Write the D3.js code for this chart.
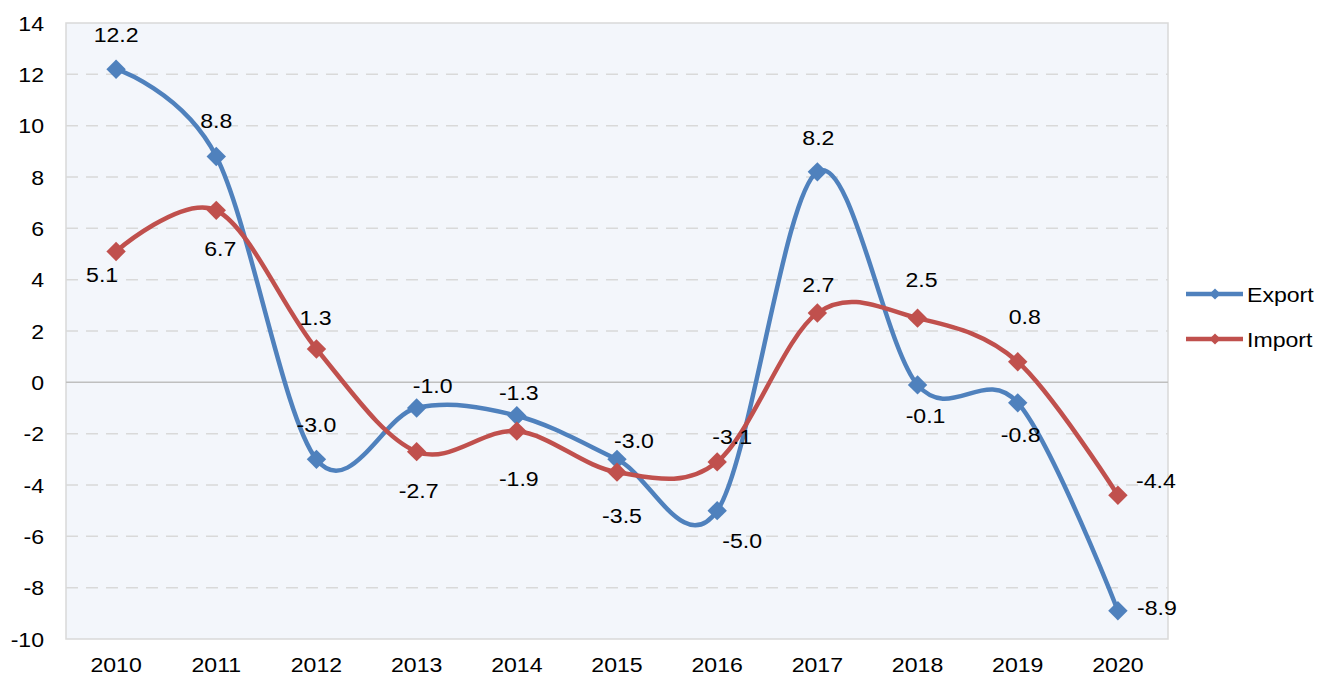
<!DOCTYPE html>
<html>
<head>
<meta charset="utf-8">
<script src="https://cdn.jsdelivr.net/npm/d3@7"></script>
<style>
  body { margin: 0; background: #fff; }
  svg { font-family: "Liberation Sans", Arial, sans-serif; }
</style>
</head>
<body>
<div id="chart"></div>
<script>
// chart data
const years = ['2010', '2011', '2012', '2013', '2014', '2015', '2016', '2017', '2018', '2019', '2020'];
const exportVals = [12.2, 8.8, -3.0, -1.0, -1.3, -3.0, -5.0, 8.2, -0.1, -0.8, -8.9];
const importVals = [5.1, 6.7, 1.3, -2.7, -1.9, -3.5, -3.1, 2.7, 2.5, 0.8, -4.4];
const yTicks = [-10, -8, -6, -4, -2, 0, 2, 4, 6, 8, 10, 12, 14];

// label nudges (dx, dy from the point), as Excel placed them by hand
const exportNudge = [[0, -27], [0, -28], [0, -27], [16, -15], [2, -16], [17, -11], [25, 37], [1, -27], [8, 38], [3, 39], [39, 4]];
const importNudge = [[-14, 31], [4, 46], [-1, -24], [2, 46], [2, 55], [5, 51], [15, -18], [1, -21], [4, -31], [7, -38], [38, -7]];

const W = 1319, H = 678;
const margin = { top: 23, right: 151, bottom: 39, left: 66 };
const width = W - margin.left - margin.right;
const height = H - margin.top - margin.bottom;
const fontSize = 21;

const svg = d3.select('#chart').append('svg')
  .attr('width', W).attr('height', H);

const g = svg.append('g')
  .attr('transform', `translate(${margin.left},${margin.top})`);

const x = d3.scaleBand().domain(years).range([0, width]);
const y = d3.scaleLinear().domain([-10, 14]).range([height, 0]);
const cx = (i) => x(years[i]) + x.bandwidth() / 2;

// text in the source is a bit wider than Arial, so stretch it slightly
function addText(parent, tx, ty, str, anchor) {
  parent.append('text')
    .attr('transform', `translate(${tx},${ty}) scale(1.1,1)`)
    .attr('text-anchor', anchor || 'middle')
    .attr('font-size', fontSize)
    .attr('fill', '#000')
    .text(str);
}

// plot background
g.append('rect')
  .attr('width', width).attr('height', height)
  .attr('fill', '#f3f6fb')
  .attr('stroke', '#d9d9d9').attr('stroke-width', 1.5);

// grid lines
g.append('g')
  .selectAll('line')
  .data(yTicks.filter((d) => d > -10 && d < 14))
  .join('line')
  .attr('x1', 0).attr('x2', width)
  .attr('y1', (d) => y(d)).attr('y2', (d) => y(d))
  .attr('stroke', (d) => (d === 0 ? '#bfbfbf' : '#d9d9d9'))
  .attr('stroke-width', 1.5)
  .attr('stroke-dasharray', (d) => (d === 0 ? null : '12,8'));

// y axis labels
const yAxis = g.append('g');
yTicks.forEach((d) => addText(yAxis, -22, y(d) + 7.5, d, 'end'));

// x axis labels
const xAxis = g.append('g');
years.forEach((d, i) => addText(xAxis, cx(i), height + 33, d));

const line = d3.line()
  .x((d, i) => cx(i))
  .y((d) => y(d))
  .curve(d3.curveCatmullRom.alpha(0));

const diamond = d3.symbol().type(d3.symbolDiamond2).size(240);

function drawSeries(vals, nudge, color) {
  g.append('path')
    .datum(vals)
    .attr('d', line)
    .attr('fill', 'none')
    .attr('stroke', color)
    .attr('stroke-width', 4.5);

  g.append('g')
    .selectAll('path')
    .data(vals)
    .join('path')
    .attr('d', diamond)
    .attr('transform', (d, i) => `translate(${cx(i)},${y(d)})`)
    .attr('fill', color);

  const labels = g.append('g');
  vals.forEach((d, i) => {
    addText(labels, cx(i) + nudge[i][0], y(d) + nudge[i][1], d.toFixed(1));
  });
}

drawSeries(exportVals, exportNudge, '#4f81bd');
drawSeries(importVals, importNudge, '#c0504d');

// legend
const legend = svg.append('g').attr('transform', 'translate(1186,0)');
[['Export', '#4f81bd', 294], ['Import', '#c0504d', 339]].forEach(([name, color, ly]) => {
  legend.append('line')
    .attr('x1', 0).attr('x2', 57).attr('y1', ly).attr('y2', ly)
    .attr('stroke', color).attr('stroke-width', 4.5);
  legend.append('path')
    .attr('d', d3.symbol().type(d3.symbolDiamond2).size(80))
    .attr('transform', `translate(29,${ly})`)
    .attr('fill', color);
  addText(legend, 61, ly + 7.5, name, 'start');
});
</script>
</body>
</html>
